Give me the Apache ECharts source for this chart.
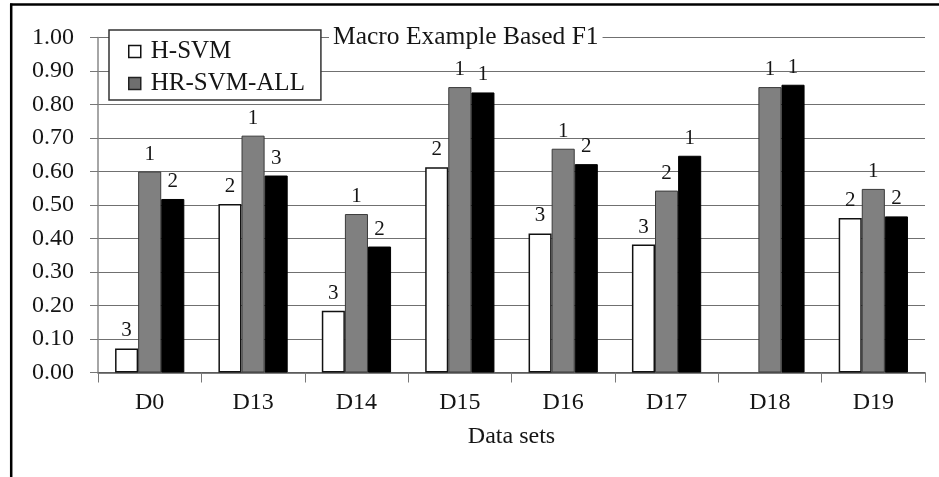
<!DOCTYPE html>
<html>
<head>
<meta charset="utf-8">
<title>Macro Example Based F1</title>
<script src="https://cdn.jsdelivr.net/npm/echarts@6/dist/echarts.min.js"></script>
<style>
  html, body { margin: 0; padding: 0; background: #fff; }
  #chart { width: 939px; height: 477px; }
</style>
</head>
<body>
<div id="chart"></div>
<script>
// Data sets on the category axis
const categories = ['D0', 'D13', 'D14', 'D15', 'D16', 'D17', 'D18', 'D19'];

// Macro example-based F1 per method
const hSvm     = [0.072, 0.503, 0.184, 0.613, 0.415, 0.382, null, 0.461];
const hrSvmAll = [0.600, 0.707, 0.473, 0.852, 0.668, 0.543, 0.852, 0.548];
const series3  = [0.518, 0.588, 0.376, 0.836, 0.622, 0.647, 0.859, 0.466];

// Rank printed above each bar
const hSvmRank     = ['3', '2', '3', '2', '3', '3', '', '2'];
const hrSvmAllRank = ['1', '1', '1', '1', '1', '2', '1', '1'];
const series3Rank  = ['2', '3', '2', '1', '2', '1', '1', '2'];

// Axis tick values
const yTicks = [0, 0.1, 0.2, 0.3, 0.4, 0.5, 0.6, 0.7, 0.8, 0.9, 1.0];

const SERIF = "'Liberation Serif', 'Times New Roman', serif";
const TEXT = '#151515';

function rankLabel(ranks) {
  return {
    show: true,
    position: 'top',
    distance: 7,
    fontFamily: SERIF,
    fontSize: 21,
    color: TEXT,
    formatter: p => ranks[p.dataIndex]
  };
}

const chart = echarts.init(document.getElementById('chart'), null, { renderer: 'canvas' });

chart.setOption({
  backgroundColor: '#fff',
  animation: false,
  grid: { left: 98, right: 14, top: 37.5, bottom: 104.5 },
  title: {
    text: 'Macro Example Based F1',
    left: 329,
    top: 23,
    padding: [1, 4, 1, 4],
    backgroundColor: '#fff',
    textStyle: { fontFamily: SERIF, fontSize: 25.5, fontWeight: 'normal', color: TEXT }
  },
  legend: {
    orient: 'vertical',
    left: 109,
    top: 30,
    padding: [9, 16, 4, 19],
    itemGap: 7,
    itemWidth: 12,
    itemHeight: 12,
    backgroundColor: '#fff',
    borderColor: '#333',
    borderWidth: 1.5,
    borderRadius: 0,
    textStyle: { fontFamily: SERIF, fontSize: 25, color: TEXT, padding: [0, 0, 0, 5] },
    data: [
      { name: 'H-SVM', icon: 'rect', itemStyle: { color: '#fff', borderColor: '#111', borderWidth: 1.5 } },
      { name: 'HR-SVM-ALL', icon: 'rect', itemStyle: { color: '#6f6f6f', borderColor: '#222', borderWidth: 1.5 } }
    ]
  },
  xAxis: {
    type: 'category',
    data: categories,
    name: 'Data sets',
    nameLocation: 'middle',
    nameGap: 52,
    nameTextStyle: { fontFamily: SERIF, fontSize: 24, color: TEXT },
    axisLine: { show: true, lineStyle: { color: '#555', width: 1.5 } },
    axisTick: { show: true, length: 10, alignWithLabel: false, lineStyle: { color: '#777', width: 1 } },
    axisLabel: { margin: 18, fontFamily: SERIF, fontSize: 24, color: TEXT }
  },
  yAxis: {
    type: 'value',
    min: yTicks[0],
    max: yTicks[yTicks.length - 1],
    interval: 0.1,
    axisLine: { show: true, lineStyle: { color: '#888', width: 1.5 } },
    axisTick: { show: true, length: 8, lineStyle: { color: '#777', width: 1 } },
    axisLabel: {
      margin: 24,
      fontFamily: SERIF,
      fontSize: 24,
      color: TEXT,
      formatter: v => v.toFixed(2)
    },
    splitLine: { show: true, lineStyle: { color: '#707070', width: 1.2 } }
  },
  series: [
    {
      name: 'H-SVM',
      type: 'bar',
      data: hSvm,
      barGap: '0%',
      barCategoryGap: '33%',
      itemStyle: { color: '#fff', borderColor: '#111', borderWidth: 1.5 },
      label: rankLabel(hSvmRank)
    },
    {
      name: 'HR-SVM-ALL',
      type: 'bar',
      data: hrSvmAll,
      barGap: '0%',
      barCategoryGap: '33%',
      itemStyle: { color: '#808080', borderColor: '#3a3a3a', borderWidth: 1 },
      label: rankLabel(hrSvmAllRank)
    },
    {
      name: 'Series 3',
      type: 'bar',
      data: series3,
      barGap: '0%',
      barCategoryGap: '33%',
      itemStyle: { color: '#000', borderColor: '#000', borderWidth: 1 },
      label: rankLabel(series3Rank)
    }
  ],
  graphic: [
    // frame along the top and left edges
    { type: 'line', shape: { x1: 10, y1: 4.5, x2: 939, y2: 4.5 }, style: { stroke: '#000', lineWidth: 2.5 }, z: 100 },
    { type: 'line', shape: { x1: 11.2, y1: 3.5, x2: 11.2, y2: 477 }, style: { stroke: '#000', lineWidth: 2.5 }, z: 100 }
  ]
});
</script>
</body>
</html>
